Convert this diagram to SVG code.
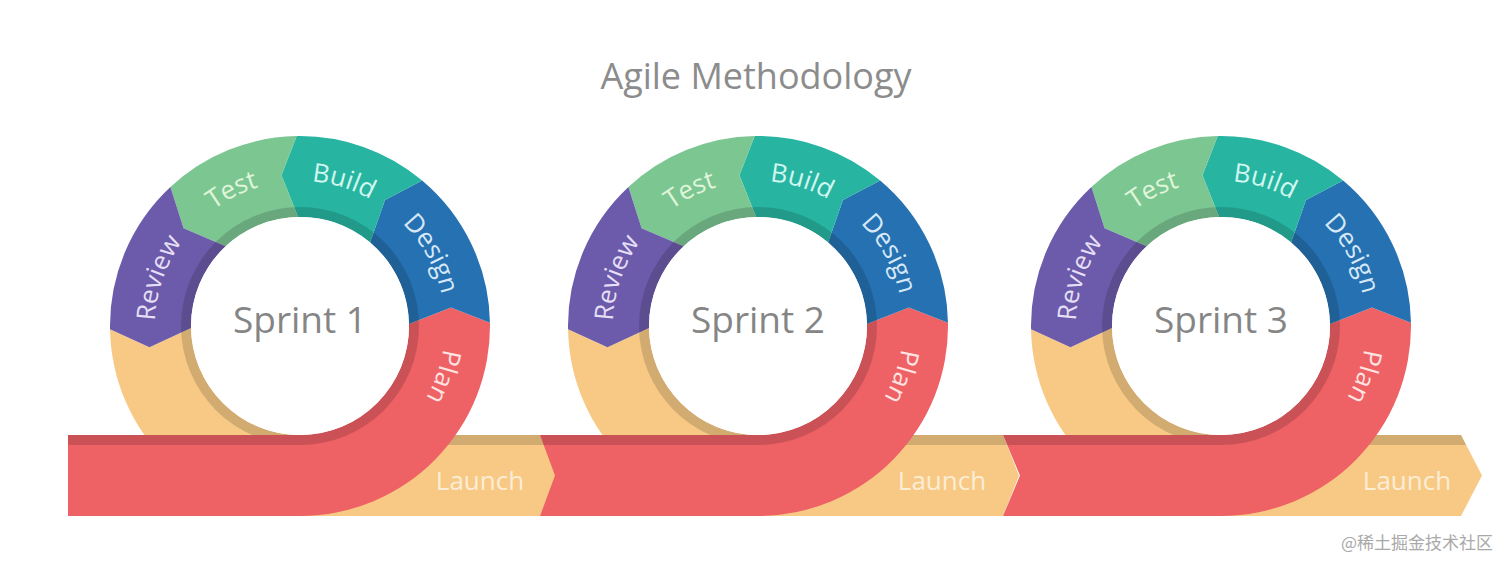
<svg xmlns="http://www.w3.org/2000/svg" xmlns:xlink="http://www.w3.org/1999/xlink" width="1512" height="569" viewBox="0 0 1512 569">
<style>
.plan{fill:#EE6165}
.design{fill:#2571B1}
.build{fill:#27B5A2}
.test{fill:#7CC692}
.review{fill:#6B5BAA}
.launch{fill:#F7C985}
.shade{fill:#000;fill-opacity:0.15}
.hole{fill:#FFFFFF}
.lbl{font-family:"Open Sans","Noto Sans","DejaVu Sans",sans-serif;font-size:26px;text-anchor:middle}
.t-plan{fill:#FDE4E2}
.t-design{fill:#D6E8F7}
.t-build{fill:#D2F7EF}
.t-test{fill:#E0F6DA}
.t-review{fill:#E6DEF6}
.t-launch{fill:#FCEDD5}
.sprint{font-family:"Open Sans","Noto Sans","DejaVu Sans",sans-serif;font-size:37px;fill:#858585;text-anchor:middle}
.title{font-family:"Open Sans","Noto Sans","DejaVu Sans",sans-serif;font-size:36px;fill:#8C8C8C;text-anchor:middle}
.wm{font-family:"Noto Sans CJK SC","Noto Sans",sans-serif;font-size:17px;fill:#A9A9A9;text-anchor:end}
</style>
<defs>
<path id="textRing" d="M 0 145 A 145 145 0 1 1 0 -145 A 145 145 0 1 1 0 145"/>
<path id="segDesign" d="M 122.13 -145.55 A 190 190 0 0 1 189.97 -3.32 L 150.87 -18.52 L 108.98 -1.90 A 109 109 0 0 0 70.06 -83.50 L 85.00 -126.01 Z"/>
<path id="segBuild" d="M -3.32 -189.97 A 190 190 0 0 1 122.13 -145.55 L 85.00 -126.01 L 70.06 -83.50 A 109 109 0 0 0 -1.90 -108.98 L -18.52 -150.87 Z"/>
<path id="segTest" d="M -129.58 -138.96 A 190 190 0 0 1 -3.32 -189.97 L -18.52 -150.87 L -1.90 -108.98 A 109 109 0 0 0 -74.34 -79.72 L -116.44 -97.70 Z"/>
<path id="segReview" d="M -189.97 3.32 A 190 190 0 0 1 -129.58 -138.96 L -116.44 -97.70 L -74.34 -79.72 A 109 109 0 0 0 -108.98 1.90 L -150.52 21.15 Z"/>
</defs>

<text id="title" class="title" x="756" y="89">Agile Methodology</text>

<g id="sprint1" transform="translate(300,326)">
<path class="launch" d="M -189.97 3.32 L -150.52 21.15 L -108.98 1.90 A 109 109 0 0 0 0 109 L 240 109 L 257 149.5 L 240 190 L 0 190 A 190 190 0 0 1 -189.97 3.32 Z"/>
<path class="shade" d="M 0 109 L 240 109 L 244.2 119 L 0 119 Z"/>
<path class="plan" d="M 189.97 -3.32 A 190 190 0 0 1 0 190 L -232 190 L -232 109 L 0 109 A 109 109 0 0 0 108.98 -1.90 L 150.87 -18.52 Z"/>
<use href="#segDesign" class="design"/>
<use href="#segBuild" class="build"/>
<use href="#segTest" class="test"/>
<use href="#segReview" class="review"/>
<path class="shade" d="M 119 0 A 119 119 0 1 1 -119 0 A 119 119 0 1 1 119 0 Z M 109 0 A 109 109 0 1 0 -109 0 A 109 109 0 1 0 109 0 Z M -232 109 L 0 109 L 0 119 L -232 119 Z"/>
<circle class="hole" r="109"/>
<text class="lbl t-review"><textPath href="#textRing" startOffset="30.2%">Review</textPath></text>
<text class="lbl t-test"><textPath href="#textRing" startOffset="42.6%">Test</textPath></text>
<text class="lbl t-build"><textPath href="#textRing" startOffset="54.7%">Build</textPath></text>
<text class="lbl t-design"><textPath href="#textRing" startOffset="67%">Design</textPath></text>
<text class="lbl t-plan"><textPath href="#textRing" startOffset="80.4%">Plan</textPath></text>
<text class="lbl t-launch" x="180" y="164">Launch</text>
<text class="sprint" x="0" y="7">Sprint 1</text>
</g>

<g id="sprint2" transform="translate(758,326)">
<path class="launch" d="M -189.97 3.32 L -150.52 21.15 L -108.98 1.90 A 109 109 0 0 0 0 109 L 245 109 L 261 149.5 L 245 190 L 0 190 A 190 190 0 0 1 -189.97 3.32 Z"/>
<path class="shade" d="M 0 109 L 245 109 L 249 119 L 0 119 Z"/>
<path class="plan" d="M 189.97 -3.32 A 190 190 0 0 1 0 190 L -218 190 L -203 149.5 L -218 109 L 0 109 A 109 109 0 0 0 108.98 -1.90 L 150.87 -18.52 Z"/>
<use href="#segDesign" class="design"/>
<use href="#segBuild" class="build"/>
<use href="#segTest" class="test"/>
<use href="#segReview" class="review"/>
<path class="shade" d="M 119 0 A 119 119 0 1 1 -119 0 A 119 119 0 1 1 119 0 Z M 109 0 A 109 109 0 1 0 -109 0 A 109 109 0 1 0 109 0 Z M -218 109 L 0 109 L 0 119 L -214.3 119 Z"/>
<circle class="hole" r="109"/>
<text class="lbl t-review"><textPath href="#textRing" startOffset="30.2%">Review</textPath></text>
<text class="lbl t-test"><textPath href="#textRing" startOffset="42.6%">Test</textPath></text>
<text class="lbl t-build"><textPath href="#textRing" startOffset="54.7%">Build</textPath></text>
<text class="lbl t-design"><textPath href="#textRing" startOffset="67%">Design</textPath></text>
<text class="lbl t-plan"><textPath href="#textRing" startOffset="80.4%">Plan</textPath></text>
<text class="lbl t-launch" x="184" y="164">Launch</text>
<text class="sprint" x="0" y="7">Sprint 2</text>
</g>

<g id="sprint3" transform="translate(1221,326)">
<path class="launch" d="M -189.97 3.32 L -150.52 21.15 L -108.98 1.90 A 109 109 0 0 0 0 109 L 240 109 L 261 149.5 L 240 190 L 0 190 A 190 190 0 0 1 -189.97 3.32 Z"/>
<path class="shade" d="M 0 109 L 240 109 L 245.2 119 L 0 119 Z"/>
<path class="plan" d="M 189.97 -3.32 A 190 190 0 0 1 0 190 L -218 190 L -201 149.5 L -218 109 L 0 109 A 109 109 0 0 0 108.98 -1.90 L 150.87 -18.52 Z"/>
<use href="#segDesign" class="design"/>
<use href="#segBuild" class="build"/>
<use href="#segTest" class="test"/>
<use href="#segReview" class="review"/>
<path class="shade" d="M 119 0 A 119 119 0 1 1 -119 0 A 119 119 0 1 1 119 0 Z M 109 0 A 109 109 0 1 0 -109 0 A 109 109 0 1 0 109 0 Z M -218 109 L 0 109 L 0 119 L -213.8 119 Z"/>
<circle class="hole" r="109"/>
<text class="lbl t-review"><textPath href="#textRing" startOffset="30.2%">Review</textPath></text>
<text class="lbl t-test"><textPath href="#textRing" startOffset="42.6%">Test</textPath></text>
<text class="lbl t-build"><textPath href="#textRing" startOffset="54.7%">Build</textPath></text>
<text class="lbl t-design"><textPath href="#textRing" startOffset="67%">Design</textPath></text>
<text class="lbl t-plan"><textPath href="#textRing" startOffset="80.4%">Plan</textPath></text>
<text class="lbl t-launch" x="186" y="164">Launch</text>
<text class="sprint" x="0" y="7">Sprint 3</text>
</g>

<g id="connectors"></g>

<text id="watermark" class="wm" x="1493" y="549">@稀土掘金技术社区</text>
</svg>
